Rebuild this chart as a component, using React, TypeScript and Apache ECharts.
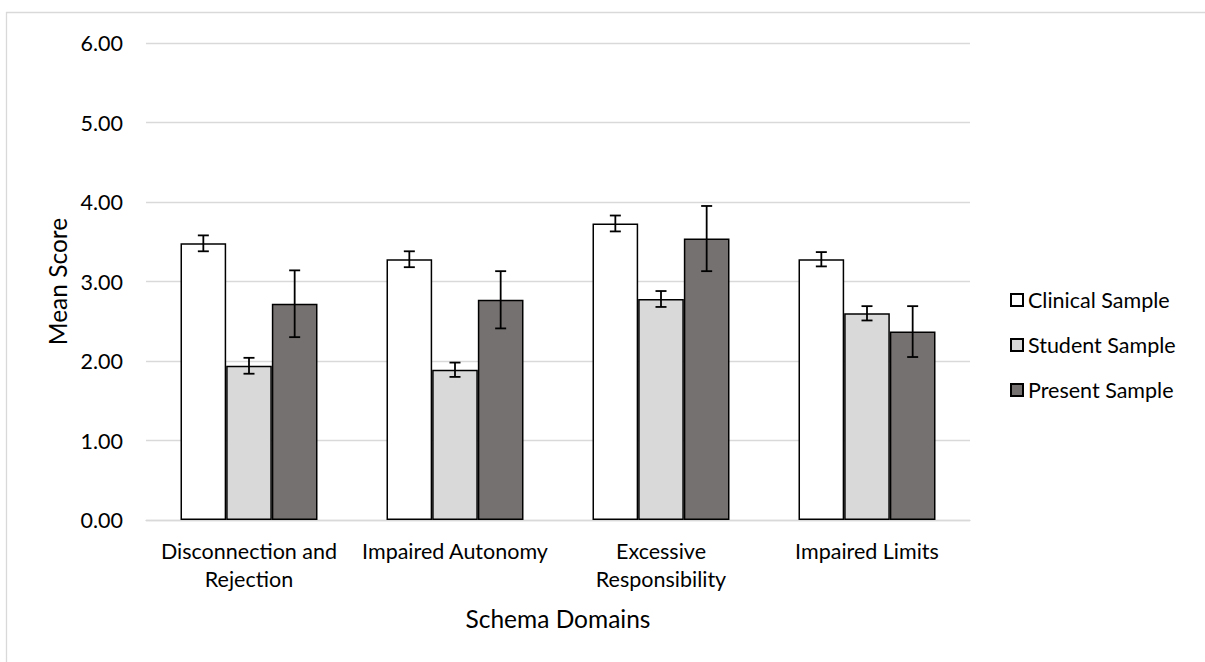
import React, { useEffect, useRef } from "react";
import * as echarts from "echarts";

const categories = [
  "Disconnection and\nRejection",
  "Impaired Autonomy",
  "Excessive\nResponsibility",
  "Impaired Limits",
];
const seriesNames = ["Clinical Sample", "Student Sample", "Present Sample"];
const clinicalMeans = [3.48, 3.28, 3.73, 3.28];
const clinicalErr = [0.1, 0.1, 0.1, 0.09];
const studentMeans = [1.94, 1.89, 2.78, 2.6];
const studentErr = [0.1, 0.09, 0.1, 0.09];
const presentMeans = [2.72, 2.77, 3.54, 2.37];
const presentErr = [0.42, 0.36, 0.41, 0.32];
const yTicks = [0, 1, 2, 3, 4, 5, 6];

const colors = ["#ffffff", "#d9d9d9", "#767171"];
const FONT = "Lato";
const FS = 21.5;
const FS_TITLE = 24.5;
const GAP_RATIO = 0.335;

export default function App() {
  const ref = useRef<HTMLDivElement>(null);
  useEffect(() => {
    if (!ref.current) return;
    const chart = echarts.init(ref.current, null, { renderer: "svg" });
    const means = [clinicalMeans, studentMeans, presentMeans];
    const errs = [clinicalErr, studentErr, presentErr];

    const barSeries = seriesNames.map((name, i) => ({
      name,
      type: "bar",
      data: means[i],
      barGap: "0%",
      barCategoryGap: (GAP_RATIO * 100).toFixed(1) + "%",
      itemStyle: { color: colors[i], borderColor: "#000", borderWidth: 1.5 },
    }));

    const errSeries = seriesNames.map((name, i) => ({
      name: name + " error",
      type: "custom",
      silent: true,
      z: 10,
      data: means[i].map((m, k) => [k, m - errs[i][k], m + errs[i][k]]),
      encode: { x: 0, y: [1, 2] },
      renderItem: (params: any, api: any) => {
        const bandW = api.size([1, 0])[0];
        const barW = (bandW * (1 - GAP_RATIO)) / 3;
        const x = api.coord([api.value(0), 0])[0] + (i - 1) * barW;
        const yLo = api.coord([api.value(0), api.value(1)])[1];
        const yHi = api.coord([api.value(0), api.value(2)])[1];
        const hw = 5.5;
        const style = { stroke: "#000", lineWidth: 1.8 };
        return {
          type: "group",
          children: [
            { type: "line", shape: { x1: x, y1: yLo, x2: x, y2: yHi }, style },
            { type: "line", shape: { x1: x - hw, y1: yLo, x2: x + hw, y2: yLo }, style },
            { type: "line", shape: { x1: x - hw, y1: yHi, x2: x + hw, y2: yHi }, style },
          ],
        };
      },
    }));

    chart.setOption({
      animation: false,
      backgroundColor: "#ffffff",
      textStyle: { fontFamily: FONT, fontSize: FS, color: "#000" },
      grid: { left: 146, right: 235, top: 43, bottom: 142 },
      legend: {
        data: seriesNames,
        orient: "vertical",
        left: 1005,
        top: 283,
        itemWidth: 12,
        itemHeight: 12,
        itemGap: 21,
        icon: "rect",
        textStyle: { fontFamily: FONT, fontSize: FS, color: "#000", lineHeight: 24 },
      },
      xAxis: {
        type: "category",
        data: categories,
        axisTick: { show: false },
        axisLine: { show: true, lineStyle: { color: "#d9d9d9", width: 1.3 } },
        axisLabel: {
          fontFamily: FONT,
          fontSize: FS,
          color: "#000",
          lineHeight: 28,
          margin: 17,
          interval: 0,
        },
        name: "Schema Domains",
        nameLocation: "middle",
        nameGap: 86,
        nameTextStyle: { fontFamily: FONT, fontSize: FS_TITLE, color: "#000" },
      },
      yAxis: {
        type: "value",
        min: yTicks[0],
        max: yTicks[yTicks.length - 1],
        interval: 1,
        axisLine: { show: false },
        axisTick: { show: false },
        splitLine: { lineStyle: { color: "#d9d9d9", width: 1.3 } },
        axisLabel: {
          fontFamily: FONT,
          fontSize: FS,
          color: "#000",
          margin: 23,
          formatter: (v: number) => v.toFixed(2),
        },
        name: "Mean Score",
        nameLocation: "middle",
        nameGap: 76,
        nameTextStyle: { fontFamily: FONT, fontSize: FS_TITLE, color: "#000" },
      },
      graphic: [
        {
          type: "rect",
          silent: true,
          shape: { x: 6.5, y: 12.5, width: 1400, height: 900 },
          style: { fill: "none", stroke: "#d9d9d9", lineWidth: 1.3 },
        },
      ],
      series: [...barSeries, ...errSeries],
    });
    return () => chart.dispose();
  }, []);
  return (
    <div
      ref={ref}
      style={{ position: "fixed", left: 0, top: 0, width: 1205, height: 662 }}
    />
  );
}
